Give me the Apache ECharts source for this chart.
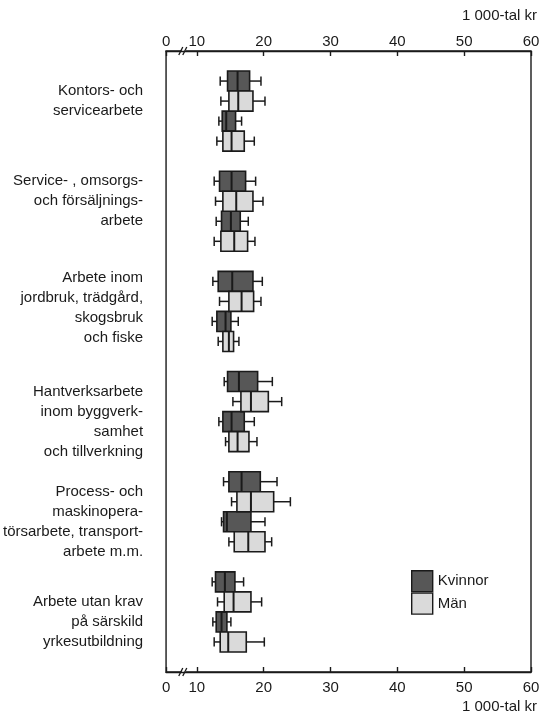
<!DOCTYPE html>
<html>
<head>
<meta charset="utf-8">
<script src="https://cdn.jsdelivr.net/npm/echarts@6.0.0/dist/echarts.min.js"></script>
<style>
  html, body { margin: 0; padding: 0; background: #fff; }
  #main { width: 543px; height: 714px; }
</style>
</head>
<body>
<div id="main"></div>
<script>
  // occupational groups, top to bottom
  var groupNames = [
    'Kontors- och\nservicearbete',
    'Service- , omsorgs-\noch försäljnings-\narbete',
    'Arbete inom\njordbruk, trädgård,\nskogsbruk\noch fiske',
    'Hantverksarbete\ninom byggverk-\nsamhet\noch tillverkning',
    'Process- och\nmaskinopera-\ntörsarbete, transport-\narbete m.m.',
    'Arbete utan krav\npå särskild\nyrkesutbildning'
  ];

  // [min, q1, median, q3, max] in 1 000-tal kr, first pair of boxes in each group
  var kvinnor1 = [
    [13.5, 14.6, 16.1, 17.9, 19.6],
    [12.6, 13.4, 15.2, 17.3, 18.8],
    [12.4, 13.2, 15.3, 18.4, 19.8],
    [14.1, 14.6, 16.3, 19.1, 21.3],
    [14.0, 14.8, 16.7, 19.5, 22.0],
    [12.3, 12.8, 14.2, 15.7, 17.0]
  ];
  var man1 = [
    [13.6, 14.8, 16.2, 18.4, 20.2],
    [12.8, 13.9, 15.9, 18.4, 19.9],
    [13.4, 14.8, 16.7, 18.5, 19.6],
    [15.4, 16.6, 18.1, 20.7, 22.7],
    [15.2, 16.0, 18.1, 21.5, 24.0],
    [13.1, 14.1, 15.5, 18.1, 19.7]
  ];
  // second pair of boxes in each group
  var kvinnor2 = [
    [13.3, 13.8, 14.4, 15.8, 16.7],
    [12.9, 13.7, 15.1, 16.5, 17.7],
    [12.3, 13.0, 14.3, 15.1, 16.2],
    [13.3, 13.9, 15.2, 17.1, 18.6],
    [13.7, 14.0, 14.5, 18.1, 20.2],
    [12.4, 12.9, 13.7, 14.5, 15.1]
  ];
  var man2 = [
    [13.0, 13.9, 15.2, 17.1, 18.6],
    [12.6, 13.6, 15.6, 17.6, 18.7],
    [13.2, 13.9, 14.8, 15.5, 16.3],
    [14.3, 14.8, 16.1, 17.8, 19.0],
    [14.8, 15.6, 17.7, 20.2, 21.2],
    [12.6, 13.5, 14.7, 17.4, 20.1]
  ];

  var tickValues = [10, 20, 30, 40, 50, 60];
  var unitLabel = '1 000-tal kr';

  // axis starts at a cut: the left edge is labelled 0
  var axisStart = 5.4;
  var breakAt = 8.2;
  var gridTop = 51;
  var gridBottom = 42;
  var gridLeft = 166;
  var gridRight = 12;

  // one row per box, an empty row between groups
  var rowsPerGroup = 5;
  var rowCount = groupNames.length * rowsPerGroup + 1;
  var labelRowOffset = [1, 1, 1, 2, 2, 2];
  var labelShift = [false, false, true, false, false, false];

  var rows = [];
  for (var r = 0; r < rowCount; r++) {
    rows.push({ value: 'r' + r, text: '' });
  }
  groupNames.forEach(function (name, g) {
    var row = rows[g * rowsPerGroup + 1 + labelRowOffset[g]];
    // a short spacer line pushes the label down a little
    row.text = labelShift[g] ? '{s| }\n{t|' + name + '}' : name;
  });

  function rowData(first, second) {
    var out = [];
    for (var g = 0; g < groupNames.length; g++) {
      var base = g * rowsPerGroup + 1;
      out.push([base].concat(first[g]));
      out.push([base + 2].concat(second[g]));
    }
    return out;
  }
  var kvinnorData = rowData(kvinnor1, kvinnor2);
  var manData = rowData(man1, man2).map(function (d) {
    return [d[0] + 1].concat(d.slice(1));
  });

  var ink = '#1a1a1a';

  function renderBox(params, api) {
    var row = api.value(0);
    var lo = api.coord([api.value(1), row]);
    var q1 = api.coord([api.value(2), row]);
    var md = api.coord([api.value(3), row]);
    var q3 = api.coord([api.value(4), row]);
    var hi = api.coord([api.value(5), row]);
    var h = api.size([0, 1])[1];
    var y = lo[1];
    var cap = h * 0.23;
    var line = { stroke: ink, lineWidth: 1.5 };
    return {
      type: 'group',
      children: [
        { type: 'line', shape: { x1: lo[0], y1: y, x2: q1[0], y2: y }, style: line },
        { type: 'line', shape: { x1: q3[0], y1: y, x2: hi[0], y2: y }, style: line },
        { type: 'line', shape: { x1: lo[0], y1: y - cap, x2: lo[0], y2: y + cap }, style: line },
        { type: 'line', shape: { x1: hi[0], y1: y - cap, x2: hi[0], y2: y + cap }, style: line },
        {
          type: 'rect',
          shape: { x: q1[0], y: y - h / 2, width: q3[0] - q1[0], height: h },
          style: { fill: api.visual('color'), stroke: ink, lineWidth: 1.6 }
        },
        { type: 'line', shape: { x1: md[0], y1: y - h / 2, x2: md[0], y2: y + h / 2 }, style: { stroke: ink, lineWidth: 2 } }
      ]
    };
  }

  var font = 'Liberation Sans';
  var xLabels = [axisStart].concat(tickValues);

  function xAxisDef(pos, margin) {
    return {
      type: 'value',
      position: pos,
      min: axisStart,
      max: 60,
      axisLine: { show: true, lineStyle: { color: ink, width: 1.4 } },
      axisTick: { show: true, inside: true, length: 5, customValues: xLabels, lineStyle: { color: ink, width: 1.4 } },
      axisLabel: {
        customValues: xLabels,
        margin: margin,
        fontFamily: font,
        fontSize: 15,
        color: ink,
        formatter: function (v) { return v < 10 ? '0' : String(v); }
      },
      splitLine: { show: false }
    };
  }

  var chart = echarts.init(document.getElementById('main'));
  chart.setOption({
    animation: false,
    backgroundColor: '#fff',
    textStyle: { fontFamily: font },
    title: [
      { text: unitLabel, right: 6, top: 8, padding: 0, textStyle: { fontFamily: font, fontSize: 15, fontWeight: 'normal', color: ink } },
      { text: unitLabel, right: 6, bottom: 0, padding: 0, textStyle: { fontFamily: font, fontSize: 15, fontWeight: 'normal', color: ink } }
    ],
    legend: {
      orient: 'vertical',
      left: 411,
      top: 570,
      itemWidth: 21,
      itemHeight: 21,
      itemGap: 0,
      padding: 0,
      icon: 'rect',
      itemStyle: { borderColor: ink, borderWidth: 1.4 },
      textStyle: { fontFamily: font, fontSize: 15, color: ink },
      data: ['Kvinnor', 'Män']
    },
    grid: {
      left: gridLeft,
      right: gridRight,
      top: gridTop,
      bottom: gridBottom,
      show: true,
      borderColor: ink,
      borderWidth: 1.4
    },
    xAxis: [xAxisDef('top', 2), xAxisDef('bottom', 8)],
    yAxis: {
      type: 'category',
      inverse: true,
      data: rows.map(function (r) { return r.value; }),
      axisLine: { show: false },
      axisTick: { show: false },
      axisLabel: {
        interval: 0,
        margin: 23,
        fontFamily: font,
        fontSize: 15,
        lineHeight: 20,
        color: ink,
        rich: {
          s: { fontSize: 1, lineHeight: 13 },
          t: { fontFamily: font, fontSize: 15, lineHeight: 20, color: ink, align: 'right' }
        },
        formatter: function (v, i) { return rows[i].text; }
      }
    },
    series: [
      {
        name: 'Kvinnor',
        type: 'custom',
        renderItem: renderBox,
        itemStyle: { color: '#575757' },
        encode: { x: [1, 2, 3, 4, 5], y: 0 },
        data: kvinnorData
      },
      {
        name: 'Män',
        type: 'custom',
        renderItem: renderBox,
        itemStyle: { color: '#dadada' },
        encode: { x: [1, 2, 3, 4, 5], y: 0 },
        data: manData
      }
    ]
  });

  // "//" cut marks on both axis lines
  var bx = chart.convertToPixel({ xAxisIndex: 0 }, breakAt);
  var lineYs = [gridTop, 714 - gridBottom];
  var marks = [];
  lineYs.forEach(function (y) {
    marks.push({ type: 'rect', shape: { x: bx - 3, y: y - 2, width: 4, height: 4 }, style: { fill: '#fff' } });
    marks.push({ type: 'line', shape: { x1: bx - 6, y1: y + 4, x2: bx - 2, y2: y - 4 }, style: { stroke: ink, lineWidth: 1.3 } });
    marks.push({ type: 'line', shape: { x1: bx - 2, y1: y + 4, x2: bx + 2, y2: y - 4 }, style: { stroke: ink, lineWidth: 1.3 } });
  });
  chart.setOption({ graphic: marks });
</script>
</body>
</html>
